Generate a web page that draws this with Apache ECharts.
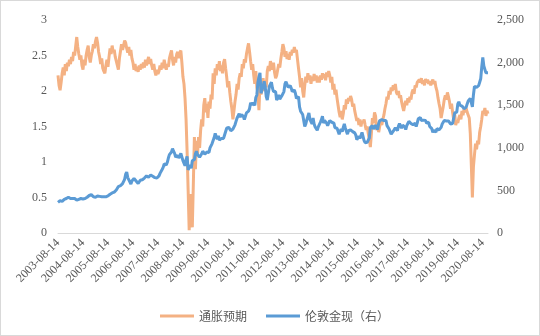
<!DOCTYPE html>
<html>
<head>
<meta charset="utf-8">
<script src="https://cdn.jsdelivr.net/npm/echarts@6/dist/echarts.min.js"></script>
<style>
  html, body { margin: 0; padding: 0; background: #fff; }
  #chart { width: 540px; height: 336px; }
  #frame { position: absolute; left: 0; top: 0; width: 540px; height: 336px; box-sizing: border-box; border: 1px solid #d9d9d9; pointer-events: none; }
</style>
</head>
<body>
<div id="chart"></div>
<div id="frame"></div>
<script>
// Semi-monthly observations (14th and 28th), 2003-08-14 .. 2020-10-28
const startYear = 2003, startMonth = 8, pointCount = 414;

// 10Y breakeven inflation (%), left axis
const inflationExpectation = [
  // 2003 Aug-Dec
  2.22, 2.08, 2.01, 2.12, 2.25, 2.33, 2.22, 2.38, 2.28, 2.40,
  // 2004
  2.35, 2.44, 2.38, 2.48, 2.42, 2.55, 2.50, 2.63, 2.76, 2.62, 2.52, 2.44,
  2.50, 2.36, 2.30, 2.44, 2.36, 2.50, 2.58, 2.64, 2.48, 2.40, 2.50, 2.56,
  // 2005
  2.66, 2.60, 2.70, 2.76, 2.68, 2.55, 2.48, 2.38, 2.46, 2.32, 2.28, 2.25,
  2.36, 2.44, 2.34, 2.48, 2.60, 2.52, 2.64, 2.55, 2.58, 2.48, 2.42, 2.36,
  // 2006
  2.30, 2.46, 2.56, 2.66, 2.58, 2.64, 2.71, 2.68, 2.60, 2.54, 2.62, 2.50,
  2.58, 2.46, 2.40, 2.30, 2.38, 2.28, 2.34, 2.27, 2.36, 2.30, 2.38, 2.32,
  // 2007
  2.40, 2.33, 2.44, 2.36, 2.42, 2.48, 2.38, 2.45, 2.36, 2.30, 2.38, 2.28,
  2.22, 2.30, 2.24, 2.28, 2.36, 2.30, 2.40, 2.32, 2.44, 2.36, 2.30, 2.38,
  // 2008
  2.34, 2.46, 2.52, 2.57, 2.44, 2.36, 2.48, 2.40, 2.52, 2.55, 2.46, 2.54,
  2.57, 2.40, 2.20, 2.10, 1.90, 1.60, 1.15, 0.60, 0.04, 0.55, 0.30, 0.08,
  // 2009
  0.70, 1.35, 0.90, 1.30, 1.10, 1.35, 1.20, 1.45, 1.60, 1.50, 1.80, 1.90,
  1.70, 1.82, 1.62, 1.85, 1.75, 1.95, 1.88, 2.25, 2.10, 2.32, 2.22, 2.38,
  // 2010
  2.30, 2.42, 2.28, 2.36, 2.25, 2.40, 2.45, 2.32, 2.20, 2.05, 2.14, 1.98,
  1.85, 1.75, 1.60, 1.72, 1.85, 1.95, 2.10, 2.02, 2.18, 2.25, 2.20, 2.38,
  // 2011
  2.32, 2.45, 2.40, 2.52, 2.60, 2.67, 2.55, 2.42, 2.30, 2.38, 2.22, 2.10,
  2.28, 2.05, 1.98, 1.73, 2.10, 1.95, 2.05, 2.18, 2.00, 2.15, 2.05, 2.28,
  // 2012
  2.35, 2.28, 2.42, 2.36, 2.30, 2.40, 2.26, 2.18, 2.22, 2.30, 2.38, 2.33,
  2.45, 2.55, 2.66, 2.60, 2.48, 2.56, 2.45, 2.52, 2.44, 2.55, 2.50, 2.58,
  // 2013
  2.54, 2.62, 2.55, 2.58, 2.45, 2.32, 2.20, 2.05, 2.18, 2.00, 1.91, 2.08,
  2.20, 2.12, 2.25, 2.16, 2.22, 2.10, 2.20, 2.14, 2.24, 2.15, 2.22, 2.12,
  // 2014
  2.20, 2.12, 2.22, 2.16, 2.25, 2.18, 2.24, 2.15, 2.26, 2.20, 2.28, 2.22,
  2.12, 2.20, 2.02, 2.10, 1.95, 2.02, 1.90, 1.80, 1.70, 1.63, 1.72, 1.60,
  // 2015
  1.68, 1.80, 1.74, 1.88, 1.82, 1.90, 1.86, 1.93, 1.88, 1.78, 1.82, 1.72,
  1.65, 1.58, 1.62, 1.52, 1.60, 1.50, 1.58, 1.55, 1.60, 1.52, 1.45, 1.50,
  // 2016
  1.40, 1.32, 1.21, 1.40, 1.62, 1.55, 1.70, 1.65, 1.45, 1.55, 1.42, 1.50,
  1.58, 1.52, 1.60, 1.66, 1.75, 1.82, 1.92, 1.88, 2.00, 1.95, 2.05, 2.00,
  // 2017
  2.08, 2.02, 2.10, 1.98, 1.95, 2.00, 1.90, 1.94, 1.85, 1.78, 1.72, 1.80,
  1.86, 1.80, 1.90, 1.84, 1.92, 1.88, 1.98, 2.02, 1.96, 2.08, 2.05, 2.12,
  // 2018
  2.10, 2.16, 2.12, 2.18, 2.10, 2.15, 2.08, 2.17, 2.12, 2.16, 2.10, 2.14,
  2.08, 2.12, 2.16, 2.10, 2.14, 2.05, 2.00, 1.90, 1.82, 1.75, 1.62, 1.70,
  // 2019
  1.78, 1.88, 1.94, 1.88, 1.98, 1.92, 1.85, 1.75, 1.82, 1.70, 1.60, 1.68,
  1.52, 1.58, 1.55, 1.62, 1.66, 1.60, 1.72, 1.66, 1.75, 1.70, 1.76, 1.70,
  // 2020 Jan-Oct
  1.72, 1.62, 1.40, 0.95, 0.50, 0.93, 1.10, 1.26, 1.18, 1.30,
  1.25, 1.42, 1.50, 1.60, 1.72, 1.68, 1.76, 1.65, 1.72, 1.68
];

// London spot gold (USD/oz), right axis
const londonGold = [
  // 2003 Aug-Dec
  360, 375, 380, 385, 372, 385, 395, 398, 405, 415,
  // 2004
  420, 410, 405, 400, 405, 420, 405, 390, 385, 390, 395, 400,
  405, 395, 400, 410, 405, 415, 420, 425, 440, 450, 450, 445,
  // 2005
  425, 420, 420, 430, 435, 440, 430, 425, 425, 420, 425, 435,
  425, 430, 435, 440, 455, 465, 470, 475, 480, 495, 505, 515,
  // 2006
  545, 560, 555, 565, 580, 600, 630, 690, 715, 650, 640, 600,
  575, 610, 630, 640, 625, 610, 590, 580, 590, 620, 630, 625,
  // 2007
  630, 645, 660, 670, 665, 655, 670, 680, 680, 665, 660, 650,
  655, 645, 665, 670, 700, 720, 745, 770, 810, 790, 800, 830,
  // 2008
  880, 920, 910, 950, 990, 960, 935, 890, 880, 910, 880, 895,
  935, 950, 850, 820, 790, 860, 900, 740, 730, 800, 760, 850,
  // 2009
  830, 860, 930, 960, 920, 930, 890, 900, 930, 960, 940, 925,
  920, 950, 955, 945, 1000, 1005, 1050, 1050, 1120, 1170, 1130, 1100,
  // 2010
  1140, 1090, 1090, 1110, 1110, 1110, 1150, 1170, 1230, 1210, 1240, 1250,
  1200, 1180, 1220, 1240, 1270, 1310, 1350, 1340, 1400, 1360, 1390, 1410,
  // 2011
  1370, 1330, 1370, 1410, 1420, 1430, 1460, 1530, 1500, 1530, 1530, 1500,
  1590, 1620, 1770, 1830, 1880, 1640, 1680, 1720, 1780, 1720, 1600, 1560,
  // 2012
  1640, 1720, 1730, 1770, 1700, 1660, 1650, 1660, 1560, 1570, 1620, 1570,
  1590, 1610, 1600, 1660, 1750, 1775, 1760, 1710, 1720, 1730, 1700, 1660,
  // 2013
  1670, 1680, 1640, 1580, 1590, 1600, 1480, 1430, 1430, 1390, 1380, 1250,
  1280, 1330, 1330, 1410, 1330, 1330, 1280, 1350, 1280, 1245, 1230, 1205,
  // 2014
  1245, 1260, 1300, 1330, 1370, 1290, 1320, 1300, 1290, 1260, 1275, 1320,
  1340, 1300, 1310, 1290, 1235, 1215, 1230, 1225, 1160, 1195, 1220, 1190,
  // 2015
  1240, 1280, 1230, 1210, 1160, 1200, 1200, 1210, 1225, 1190, 1180, 1175,
  1150, 1095, 1115, 1135, 1110, 1130, 1180, 1160, 1085, 1060, 1060, 1065,
  // 2016
  1090, 1115, 1240, 1230, 1260, 1220, 1230, 1265, 1275, 1215, 1285, 1320,
  1340, 1330, 1340, 1320, 1325, 1320, 1260, 1270, 1220, 1190, 1160, 1145,
  // 2017
  1195, 1195, 1235, 1255, 1200, 1255, 1285, 1265, 1230, 1265, 1260, 1245,
  1215, 1260, 1285, 1310, 1320, 1285, 1300, 1270, 1280, 1290, 1250, 1290,
  // 2018
  1340, 1340, 1355, 1320, 1320, 1325, 1345, 1320, 1290, 1295, 1300, 1250,
  1240, 1225, 1180, 1205, 1200, 1185, 1225, 1230, 1210, 1220, 1240, 1280,
  // 2019
  1290, 1320, 1310, 1315, 1300, 1315, 1295, 1280, 1300, 1285, 1345, 1410,
  1410, 1420, 1515, 1540, 1500, 1490, 1490, 1495, 1460, 1455, 1475, 1515,
  // 2020 Jan-Oct
  1550, 1570, 1580, 1590, 1480, 1620, 1720, 1710, 1710, 1720,
  1730, 1770, 1810, 1950, 2060, 1960, 1960, 1880, 1900, 1880
];

const seriesNames = ['通胀预期', '伦敦金现（右）'];
const leftTicks = { min: 0, max: 3, step: 0.5 };
const rightTicks = { min: 0, max: 2500, step: 500 };

// Date labels for each observation
const dates = [];
for (let i = 0; i < pointCount; i++) {
  const m = startMonth - 1 + Math.floor(i / 2);
  const y = startYear + Math.floor(m / 12);
  const mm = String(m % 12 + 1).padStart(2, '0');
  dates.push(y + '-' + mm + '-' + (i % 2 === 0 ? '14' : '28'));
}

const numFont = '"Liberation Serif", "Times New Roman", serif';
const cjkFont = '"Noto Sans CJK SC", sans-serif';
const textColor = '#595959';

const chart = echarts.init(document.getElementById('chart'), null, { renderer: 'canvas' });
chart.setOption({
  animation: false,
  backgroundColor: '#ffffff',
  grid: { left: 58, right: 52, top: 20, bottom: 103, containLabel: false, outerBoundsMode: 'none' },
  legend: {
    data: seriesNames,
    left: 155,
    top: 305,
    icon: 'rect',
    itemWidth: 34,
    itemHeight: 3,
    itemGap: 19,
    textStyle: { color: textColor, fontSize: 12, fontFamily: cjkFont }
  },
  xAxis: {
    type: 'category',
    data: dates,
    boundaryGap: false,
    axisLine: { lineStyle: { color: '#d9d9d9', width: 1 } },
    axisTick: { show: false },
    splitLine: { show: false },
    axisLabel: {
      rotate: 45,
      margin: 8,
      color: textColor,
      fontSize: 12,
      fontFamily: numFont,
      hideOverlap: false,
      interval: function (index, value) { return value.slice(5) === '08-14'; }
    }
  },
  yAxis: [
    {
      type: 'value',
      min: leftTicks.min, max: leftTicks.max, interval: leftTicks.step,
      axisLine: { show: false }, axisTick: { show: false }, splitLine: { show: false },
      axisLabel: { color: textColor, fontSize: 12, fontFamily: numFont, margin: 11 }
    },
    {
      type: 'value',
      min: rightTicks.min, max: rightTicks.max, interval: rightTicks.step,
      axisLine: { show: false }, axisTick: { show: false }, splitLine: { show: false },
      axisLabel: {
        color: textColor, fontSize: 12, fontFamily: numFont, margin: 9,
        formatter: function (v) { return v.toLocaleString('en-US'); }
      }
    }
  ],
  series: [
    {
      name: seriesNames[0],
      type: 'line',
      yAxisIndex: 0,
      data: inflationExpectation,
      showSymbol: false,
      lineStyle: { color: '#F4B183', width: 3 },
      itemStyle: { color: '#F4B183' }
    },
    {
      name: seriesNames[1],
      type: 'line',
      yAxisIndex: 1,
      data: londonGold,
      showSymbol: false,
      lineStyle: { color: '#5B9BD5', width: 3 },
      itemStyle: { color: '#5B9BD5' }
    }
  ]
});
</script>
</body>
</html>
